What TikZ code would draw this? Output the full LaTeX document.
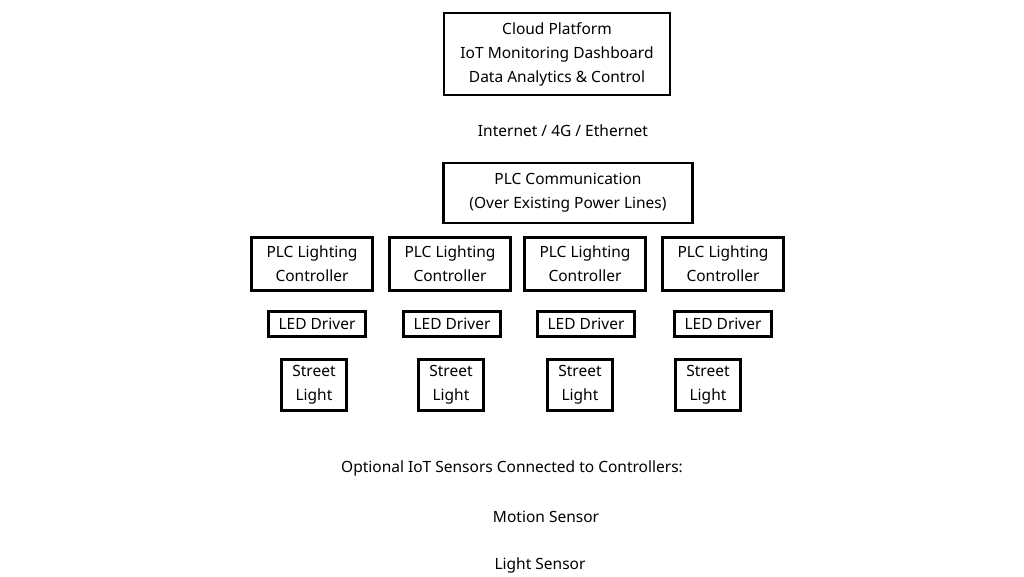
\documentclass[tikz,border=0pt]{standalone}
\usepackage{fontspec}
\setmainfont{Noto Sans}
\begin{document}
\begin{tikzpicture}[x=1pt,y=-1pt,
  box/.style={draw,line width=2.6pt,inner sep=0pt,align=center,font=\fontsize{15.5}{24}\selectfont},
  lbl/.style={inner sep=0pt,font=\fontsize{15.5}{24}\selectfont}]
\useasboundingbox[fill=white] (0,0) rectangle (1024,576);
\node[box,minimum width=226,minimum height=82] (cloud) at (557,54) {Cloud Platform\\IoT Monitoring Dashboard\\Data Analytics \& Control};
\node[lbl] (net) at (563,131) {Internet / 4G / Ethernet};
\node[box,minimum width=249,minimum height=60] (plc) at (568,193) {PLC Communication\\(Over Existing Power Lines)};
\foreach \n/\cx/\lx/\sx in {1/312/317/314,2/450/452/451,3/585/586/580,4/723/723/708}{
  \node[box,minimum width=121,minimum height=53] (c\n) at (\cx,264) {PLC Lighting\\Controller};
  \node[box,minimum width=97,minimum height=25] (d\n) at (\lx,324) {LED Driver};
  \node[box,minimum width=65,minimum height=51] (s\n) at (\sx,385) {Street\\Light};
}
\node[lbl] (opt) at (512,468) {Optional IoT Sensors Connected to Controllers:};
\node[lbl] (ms) at (546,517) {Motion Sensor};
\node[lbl] (ls) at (540,565) {Light Sensor};
\end{tikzpicture}
\end{document}
